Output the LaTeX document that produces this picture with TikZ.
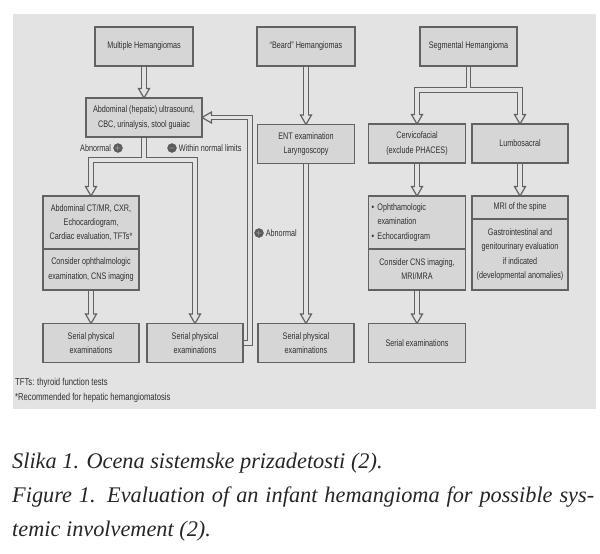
\documentclass[tikz,border=0pt]{standalone}
\usepackage{fontspec}
\usetikzlibrary{positioning}
\newfontfamily\boxfont[FakeStretch=0.76]{Liberation Sans}
\newfontfamily\capfont{Liberation Serif}
\definecolor{panelgray}{HTML}{E3E3E3}
\definecolor{boxgray}{HTML}{D6D6D6}
\definecolor{linegray}{HTML}{626262}
\definecolor{textgray}{HTML}{303030}
\definecolor{signgray}{HTML}{5A5A5A}
\pgfdeclarelayer{panel}
\pgfdeclarelayer{pipes}
\pgfsetlayers{panel,pipes,main}
\tikzstyle{box} = [draw=linegray, fill=boxgray, line width=1.2pt, outer sep=0pt, inner sep=1pt, minimum width=97pt, minimum height=39pt, align=center, text=textgray, font=\boxfont\fontsize{9.5}{14.2}\selectfont]
\tikzstyle{pipe_out} = [line width=5.6pt, draw=linegray, line join=miter]
\tikzstyle{pipe_in} = [line width=3.2pt, draw=panelgray, line join=miter]
\tikzstyle{sign} = [circle, fill=signgray, draw=linegray, inner sep=0pt, minimum size=9pt, text=boxgray, font=\fontsize{8}{8}\selectfont]
\tikzstyle{note_text} = [inner sep=0pt, text=textgray, font=\boxfont\fontsize{9.5}{12}\selectfont]
\tikzstyle{caption_text} = [inner sep=0pt, anchor=base west, text=black!85, font=\capfont\itshape\fontsize{22.3}{26}\selectfont]
\tikzset{pipe_head/.pic={\draw[line width=1.2pt, draw=linegray, fill=panelgray, line join=miter] (0,0) -- (-5.5,-9.5) -- (5.5,-9.5) -- cycle;}}
\newcommand{\pipenet}[2]{%
    \draw[#1] (multi.south) -- ([yshift=#2pt]abd.north);
    \draw[#1] (abd.south) -- (abd_split);
    \draw[#1] (abd_split) -| ([yshift=#2pt]ct_top.north);
    \draw[#1] (abd_split) -| ([yshift=#2pt]serial_b.north);
    \draw[#1] (ct_bot.south) -- ([yshift=#2pt]serial_a.north);
    \draw[#1] (serial_b.east) -- ++(7,0) |- ([xshift=#2pt]abd.east);
    \draw[#1] (beard.south) -- ([yshift=#2pt]ent.north);
    \draw[#1] (ent.south) -- ([yshift=#2pt]serial_c.north);
    \draw[#1] (seg.south) -- (seg_split);
    \draw[#1] (seg_split) -| ([yshift=#2pt]cervico.north);
    \draw[#1] (seg_split) -| ([yshift=#2pt]lumbo.north);
    \draw[#1] (cervico.south) -- ([yshift=#2pt]oph_top.north);
    \draw[#1] (lumbo.south) -- ([yshift=#2pt]mri_top.north);
    \draw[#1] (oph_bot.south) -- ([yshift=#2pt]serial_d.north);
}

\begin{document}
\begin{tikzpicture}[x=1pt, y=-1pt]
    \useasboundingbox (0,0) rectangle (600,554);
    \begin{pgfonlayer}{panel}
        \fill[white] (0,0) rectangle (600,554);
        \fill[panelgray] (13,14) rectangle (596,409);
    \end{pgfonlayer}

    \node (multi) [box, minimum width=98pt] at (144,46.5) {Multiple Hemangiomas};
    \node (beard) [box, minimum width=98pt] at (306,46.5) {“Beard” Hemangiomas};
    \node (seg) [box] at (468.5,46.5) {Segmental Hemangioma};

    \node (abd) [box, minimum width=116pt] at (144,117.5) {Abdominal (hepatic) ultrasound,\\CBC, urinalysis, stool guaiac};
    \node (ent) [box] at (306,144) {ENT examination\\Laryngoscopy};
    \node (cervico) [box] at (417,143.5) {Cervicofacial\\(exclude PHACES)};
    \node (lumbo) [box, minimum width=96pt] at (520,143.5) {Lumbosacral};

    \node (ct_top) [box, minimum width=96pt, minimum height=53pt] at (91,222.5) {Abdominal CT/MR, CXR,\\Echocardiogram,\\Cardiac evaluation, TFTs*};
    \node (ct_bot) [box, minimum width=96pt, minimum height=41pt, below=0pt of ct_top] {Consider ophthalmologic\\examination, CNS imaging};
    \node (oph_top) [box, minimum height=53pt, text width=91pt, inner xsep=3pt, align=left] at (417,222.5) {\makebox[6pt][l]{•}Ophthamologic\\\hspace*{6pt}examination\\\makebox[6pt][l]{•}Echocardiogram};
    \node (oph_bot) [box, minimum height=41pt, below=0pt of oph_top] {Consider CNS imaging,\\MRI/MRA};
    \node (mri_top) [box, minimum width=96pt, minimum height=23pt] at (520,207.5) {MRI of the spine};
    \node (mri_bot) [box, minimum width=96pt, minimum height=71pt, below=0pt of mri_top] {Gastrointestinal and\\genitourinary evaluation\\if indicated\\(developmental anomalies)};

    \node (serial_a) [box, minimum width=96pt] at (91,343) {Serial physical\\examinations};
    \node (serial_b) [box, minimum width=96pt] at (195,343) {Serial physical\\examinations};
    \node (serial_c) [box, minimum width=96pt] at (306,343) {Serial physical\\examinations};
    \node (serial_d) [box] at (417,343) {Serial examinations};

    \coordinate (abd_split) at (144,160);
    \coordinate (seg_split) at (468.5,90);

    \begin{pgfonlayer}{pipes}
        \pipenet{pipe_out}{9.5}
        \foreach \target in {abd, ct_top, serial_a, serial_b, ent, serial_c, cervico, lumbo, oph_top, mri_top, serial_d}
            \pic at (\target.north) {pipe_head};
        \pic[rotate=-90] at (abd.east) {pipe_head};
        \pipenet{pipe_in}{8}
    \end{pgfonlayer}

    \node (abn_sign) [sign] at (118,148) {$+$};
    \node (abn_text) [note_text, left=2pt of abn_sign] {Abnormal};
    \node (wnl_sign) [sign] at (172,148) {$-$};
    \node (wnl_text) [note_text, right=2pt of wnl_sign] {Within normal limits};
    \node (loop_sign) [sign] at (259,233) {$+$};
    \node (loop_text) [note_text, right=2pt of loop_sign] {Abnormal};

    \node (fn_tft) [note_text, anchor=west, font=\boxfont\fontsize{10.1}{12}\selectfont] at (15,383) {TFTs: thyroid function tests};
    \node (fn_star) [note_text, anchor=west, font=\boxfont\fontsize{10.1}{12}\selectfont] at (15,398) {*Recommended for hepatic hemangiomatosis};

    \node (cap_sl) [caption_text] at (12,468) {Slika 1. Ocena sistemske prizadetosti (2).};
    \node (cap_en) [caption_text] at (12,502) {\makebox[582pt][s]{Figure 1. Evaluation of an infant hemangioma for possible sys-}};
    \node (cap_en_b) [caption_text] at (12,536) {temic involvement (2).};
\end{tikzpicture}
\end{document}
